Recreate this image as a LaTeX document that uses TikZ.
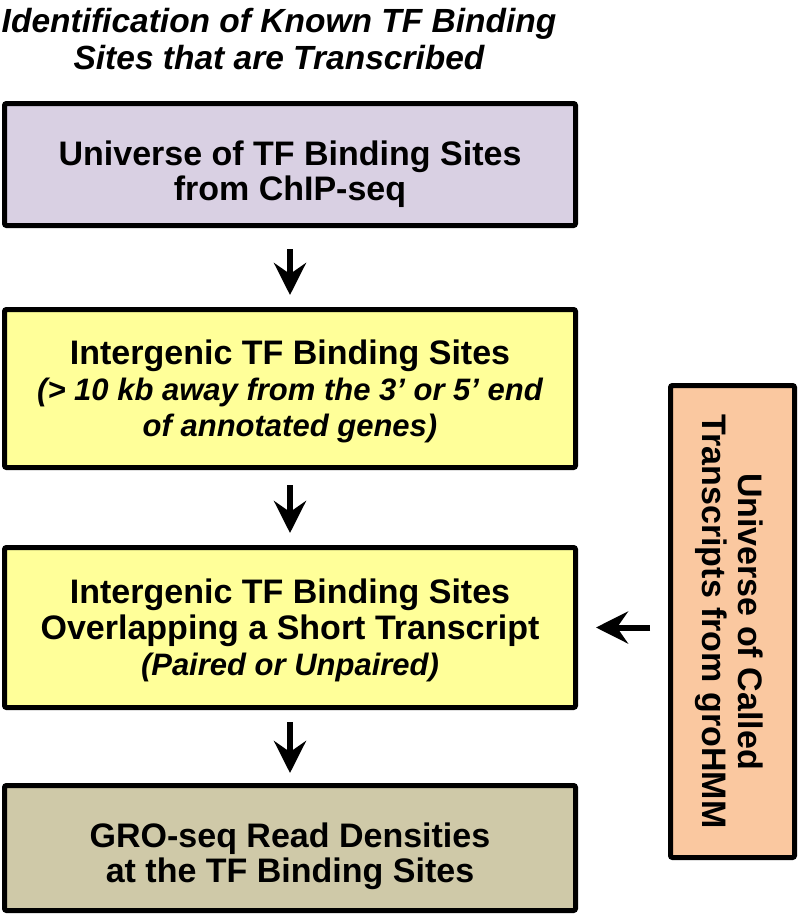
\documentclass[tikz,border=0pt]{standalone}
\usepackage{fontspec}
\setmainfont{Liberation Sans}
\usetikzlibrary{arrows.meta,calc}

\definecolor{lilac}{HTML}{D9D0E3}
\definecolor{paleyellow}{HTML}{FFFF99}
\definecolor{tan}{HTML}{CFC9A8}
\definecolor{peach}{HTML}{FAC8A0}

\newcommand{\note}[1]{{\itshape\fontsize{31}{36}\selectfont #1}}

\tikzset{
	stage/.style={draw=black, line width=5pt, rounded corners=2pt, inner sep=0pt, text depth=0pt,
		minimum width=571pt, align=center, font=\fontsize{34}{36}\selectfont\bfseries},
	flow/.style={line width=6pt, -{Stealth[length=32pt, width=32pt, inset=11pt]}}
}

\begin{document}
\begin{tikzpicture}[x=1pt, y=-1pt]
	\useasboundingbox (0,0) rectangle (800,916);
	\node[align=center, inner sep=0pt, font=\fontsize{33.5}{37}\selectfont\bfseries\itshape] (title) at (279,39)
	{Identification of Known TF Binding\\Sites that are Transcribed};
	\node[stage, fill=lilac, minimum height=122pt, text height=71pt, font=\fontsize{34}{35}\selectfont\bfseries] (universe) at (290,164.5)
	{Universe of TF Binding Sites\\from ChIP-seq};
	\node[stage, fill=paleyellow, minimum height=158pt] (intergenic) at (290,388.5)
	{Intergenic TF Binding Sites\\\note{(> 10 kb away from the 3’ or 5’ end}\\\note{of annotated genes)}};
	\node[stage, fill=paleyellow, minimum height=160pt] (overlap) at (290,627.5)
	{Intergenic TF Binding Sites\\Overlapping a Short Transcript\\\note{(Paired or Unpaired)}};
	\node[stage, fill=tan, minimum height=125pt, text height=68pt, font=\fontsize{34}{35}\selectfont\bfseries] (density) at (290,848)
	{GRO-seq Read Densities\\at the TF Binding Sites};
	\node[stage, fill=peach, rotate=-90, minimum width=472pt, minimum height=124pt] (called) at (732.5,621.5)
	{Universe of Called\\Transcripts from groHMM};
	% downward flow
	\draw[flow, shorten <=21pt, shorten >=12pt] (universe.south) -- (intergenic.north);
	\draw[flow, shorten <=15pt, shorten >=12pt] (intergenic.south) -- (overlap.north);
	\draw[flow, shorten <=12pt, shorten >=10pt] (overlap.south) -- (density.north);
	% side input
	\draw[flow, shorten <=18pt, shorten >=18pt] (called.south |- overlap.east) -- (overlap.east);
\end{tikzpicture}
\end{document}
